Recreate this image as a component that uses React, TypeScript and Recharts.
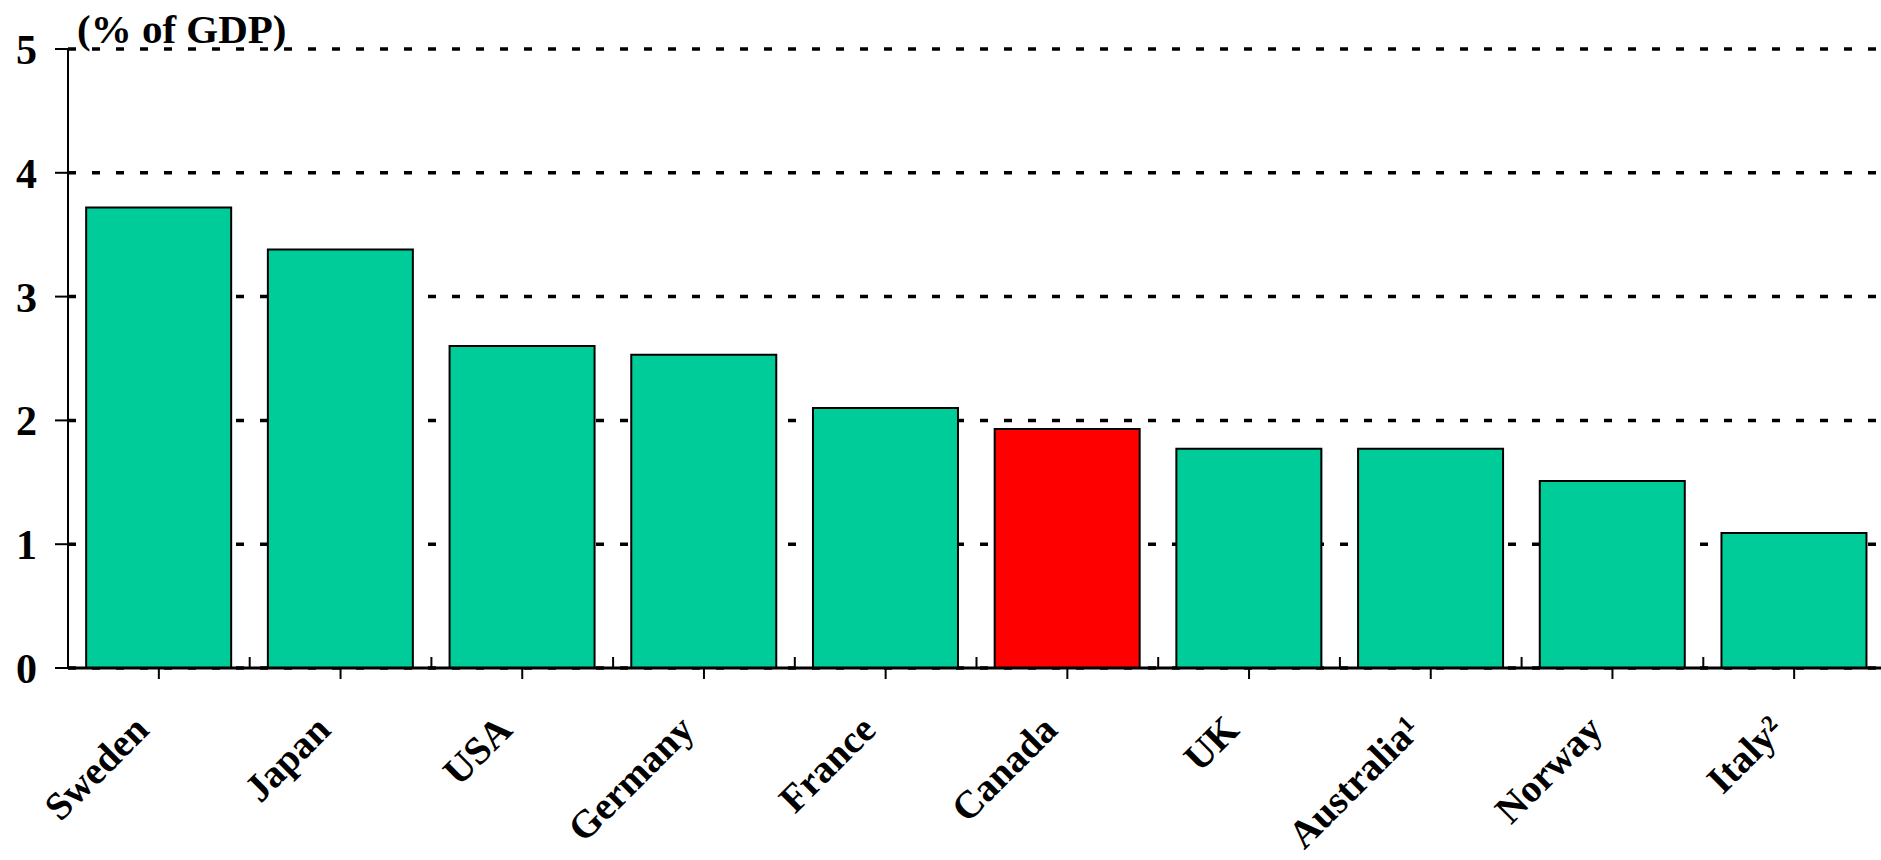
import React from 'react';
import { BarChart, Bar, XAxis, YAxis, CartesianGrid, Cell } from 'recharts';

// Values, % of GDP
const countries = ['Sweden', 'Japan', 'USA', 'Germany', 'France', 'Canada', 'UK', 'Australia¹', 'Norway', 'Italy²'];
const spending = [3.72, 3.38, 2.6, 2.53, 2.1, 1.93, 1.77, 1.77, 1.51, 1.09];
const highlight = 'Canada';
const yTicks = [0, 1, 2, 3, 4, 5];

const GREEN = '#00CC99';
const RED = '#FF0000';
const FONT = '"Liberation Serif", "Times New Roman", serif';

const chartData = countries.map((name, i) => ({ name, value: spending[i] }));

const CountryTick = (props: any) => {
  const { x, y, payload } = props;
  const half = payload.offset || 0;
  const tx = x - 8;
  const ty = y + 64;
  return (
    <g>
      <line x1={x} y1={y} x2={x} y2={y + 11} stroke="#000" strokeWidth={2} />
      <line x1={x - half} y1={y} x2={x - half} y2={y - 11} stroke="#000" strokeWidth={2} />
      <text
        x={tx}
        y={ty}
        transform={`rotate(-45, ${tx}, ${ty})`}
        textAnchor="end"
        fill="#000"
        style={{ fontFamily: FONT, fontWeight: 700, fontSize: 39 }}
      >
        {payload.value}
      </text>
    </g>
  );
};

export default function App() {
  return (
    <div style={{ position: 'fixed', left: 0, top: 0, width: 1881, height: 860, overflow: 'hidden', background: '#fff' }}>
      <BarChart
        width={1900}
        height={860}
        data={chartData}
        margin={{ top: 49, right: 15, bottom: 0, left: 0 }}
        barCategoryGap="10%"
      >
        <CartesianGrid
          horizontal
          vertical={false}
          stroke="#000"
          strokeWidth={3.5}
          strokeDasharray="8 16"
        />
        <XAxis
          dataKey="name"
          height={192}
          interval={0}
          tickSize={0}
          tickMargin={0}
          tickLine={false}
          axisLine={{ stroke: '#000', strokeWidth: 3 }}
          tick={<CountryTick />}
        />
        <YAxis
          width={68}
          domain={[0, 5]}
          ticks={yTicks}
          interval={0}
          tickSize={13}
          tickMargin={18}
          axisLine={{ stroke: '#000', strokeWidth: 2 }}
          tickLine={{ stroke: '#000', strokeWidth: 2 }}
          tick={{ fill: '#000', fontFamily: FONT, fontWeight: 700, fontSize: 42 }}
        />
        <Bar dataKey="value" stroke="#000" strokeWidth={2} isAnimationActive={false}>
          {chartData.map((d) => (
            <Cell key={d.name} fill={d.name === highlight ? RED : GREEN} />
          ))}
        </Bar>
      </BarChart>
      <div
        style={{
          position: 'absolute',
          left: 77,
          top: 9,
          fontFamily: FONT,
          fontWeight: 700,
          fontSize: 41,
          lineHeight: 1,
          color: '#000',
          whiteSpace: 'nowrap',
        }}
      >
        (% of GDP)
      </div>
    </div>
  );
}
